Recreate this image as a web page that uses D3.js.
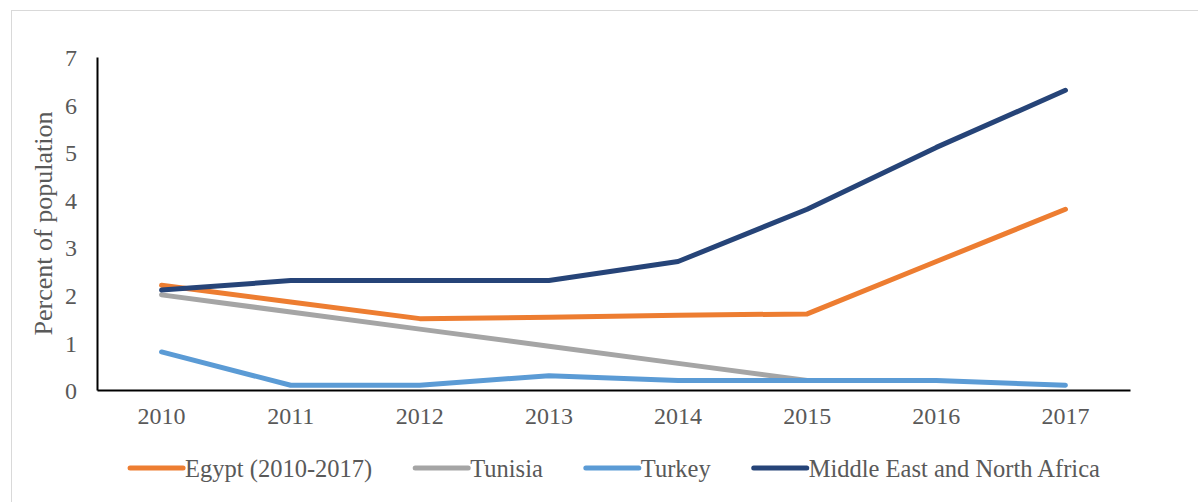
<!DOCTYPE html>
<html>
<head>
<meta charset="utf-8">
<script src="https://cdn.jsdelivr.net/npm/d3@7"></script>
<style>
  body { margin: 0; background: #fff; }
  text { font-family: "Liberation Serif", "Times New Roman", serif; fill: #595959; }
</style>
</head>
<body>
<div id="chart"></div>
<script>
// data
var years = ["2010", "2011", "2012", "2013", "2014", "2015", "2016", "2017"];
var egypt = [2.2, 1.85, 1.5, 1.53, 1.57, 1.6, 2.7, 3.8];
var tunisia = [2.0, 1.64, 1.28, 0.92, 0.56, 0.2, null, null];
var turkey = [0.8, 0.1, 0.1, 0.3, 0.2, 0.2, 0.2, 0.1];
var mena = [2.1, 2.3, 2.3, 2.3, 2.7, 3.8, 5.1, 6.3];
var yTicks = [0, 1, 2, 3, 4, 5, 6, 7];

var series = [
    { name: "Egypt (2010-2017)", values: egypt, color: "#ED7D31" },
    { name: "Tunisia", values: tunisia, color: "#A5A5A5" },
    { name: "Turkey", values: turkey, color: "#5B9BD5" },
    { name: "Middle East and North Africa", values: mena, color: "#264478" }
];

var W = 1198, H = 502;
var margin = { top: 57, right: 68, bottom: 112, left: 97 },
    width = W - margin.left - margin.right,
    height = H - margin.top - margin.bottom;

var svgRoot = d3.select("#chart").append("svg")
    .attr("width", W)
    .attr("height", H);

// outer frame
svgRoot.append("rect")
    .attr("x", 11.5).attr("y", 10.5)
    .attr("width", W).attr("height", H)
    .attr("fill", "none")
    .attr("stroke", "#d9d9d9")
    .attr("stroke-width", 1);

var svg = svgRoot.append("g")
    .attr("transform", "translate(" + margin.left + "," + margin.top + ")");

var x = d3.scaleBand()
    .domain(years)
    .range([0, width]);

var y = d3.scaleLinear()
    .domain([0, 7])
    .range([height, 0]);

// axes
var xAxis = svg.append("g")
    .attr("transform", "translate(0," + height + ")")
    .call(d3.axisBottom(x).tickSize(0).tickPadding(17));

var yAxis = svg.append("g")
    .call(d3.axisLeft(y).tickValues(yTicks).tickFormat(d3.format("d")).tickSize(0).tickPadding(20));

[xAxis, yAxis].forEach(function(a) {
    a.select(".domain").attr("stroke", "#000").attr("stroke-width", 2);
    a.selectAll("text")
        .style("font-family", "'Liberation Serif', 'Times New Roman', serif")
        .style("font-size", "24px")
        .attr("fill", "#595959");
});
yAxis.selectAll("text").attr("dy", "0.36em");

svg.append("text")
    .attr("transform", "rotate(-90)")
    .attr("x", -height / 2)
    .attr("y", -margin.left + 52)
    .attr("text-anchor", "middle")
    .style("font-size", "26px")
    .text("Percent of population");

// lines
var line = d3.line()
    .defined(function(d) { return d != null; })
    .x(function(d, i) { return x(years[i]) + x.bandwidth() / 2; })
    .y(function(d) { return y(d); });

svg.selectAll(".series")
    .data(series)
    .enter().append("path")
    .attr("class", "series")
    .attr("d", function(s) { return line(s.values); })
    .attr("fill", "none")
    .attr("stroke", function(s) { return s.color; })
    .attr("stroke-width", 5)
    .attr("stroke-linecap", "round")
    .attr("stroke-linejoin", "round");

// legend
var legend = svgRoot.append("g");
var lx = 0, ly = 468;
series.forEach(function(s, i) {
    var g = legend.append("g");
    g.append("line")
        .attr("x1", lx + 3).attr("x2", lx + 56)
        .attr("y1", ly).attr("y2", ly)
        .attr("stroke", s.color)
        .attr("stroke-width", 5)
        .attr("stroke-linecap", "round");
    var t = g.append("text")
        .attr("x", lx + 58)
        .attr("y", ly)
        .attr("dy", "0.35em")
        .style("font-size", "24.5px")
        .text(s.name);
    lx += 58 + t.node().getComputedTextLength() + 40;
});
var total = lx - 40;
var cx = margin.left + width / 2;
legend.attr("transform", "translate(" + (cx - total / 2) + ",0)");
</script>
</body>
</html>
